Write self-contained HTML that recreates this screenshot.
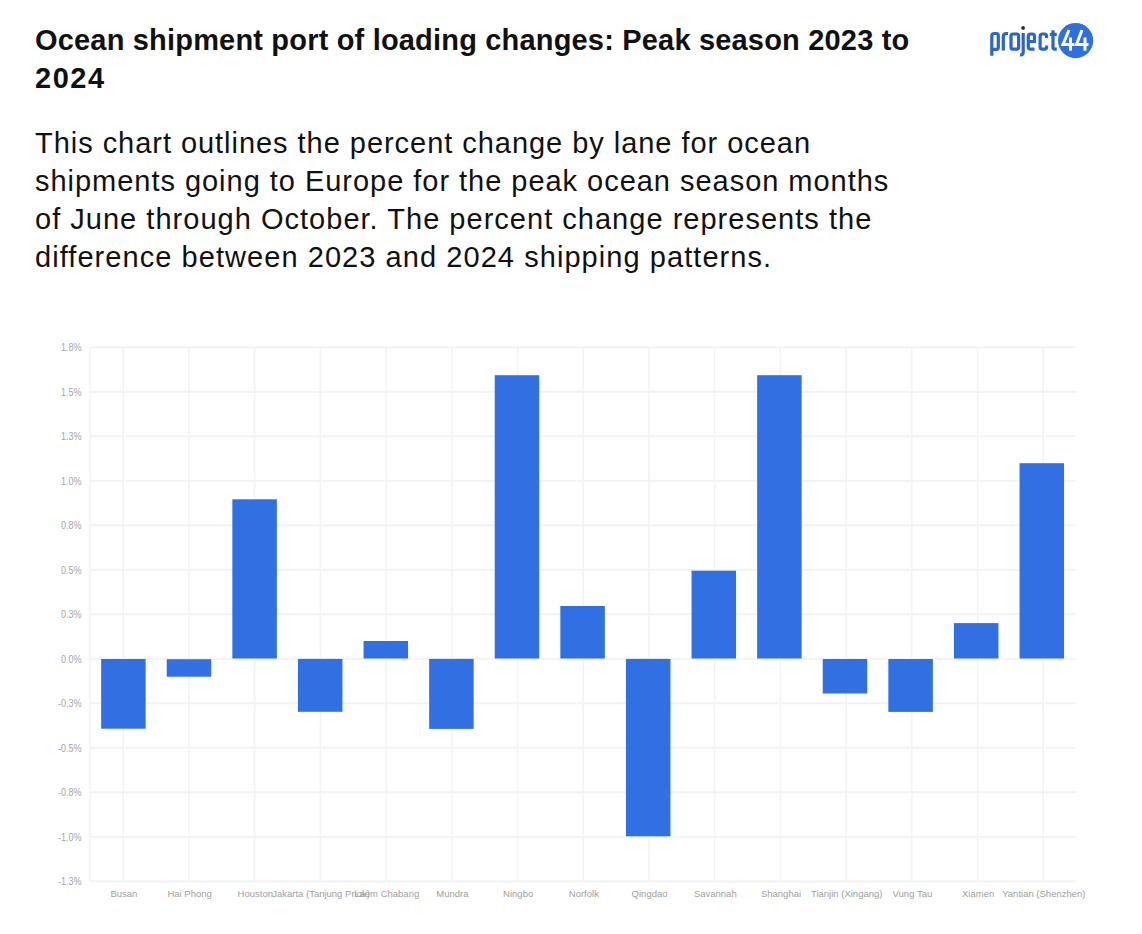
<!DOCTYPE html>
<html><head><meta charset="utf-8">
<style>
html,body{margin:0;padding:0;background:#fff;}
body{width:1142px;height:934px;position:relative;overflow:hidden;font-family:"Liberation Sans",sans-serif;color:#111;}
.t{position:absolute;left:35px;white-space:nowrap;}
.title{font-weight:bold;font-size:29px;line-height:38px;}
.body{font-size:29px;line-height:38px;}
svg{position:absolute;left:0;top:0;}
.yl{font-family:"Liberation Sans",sans-serif;font-size:10px;fill:#a6a6a6;}
.xl{font-family:"Liberation Sans",sans-serif;font-size:9.5px;fill:#a0a0a0;}
</style></head>
<body>
<div class="t title" style="top:20.6px;letter-spacing:0.18px">Ocean shipment port of loading changes: Peak season 2023 to</div>
<div class="t title" style="top:58.8px;letter-spacing:1.5px">2024</div>
<div class="t body" style="top:123.7px;letter-spacing:0.96px">This chart outlines the percent change by lane for ocean</div>
<div class="t body" style="top:161.7px;letter-spacing:0.97px">shipments going to Europe for the peak ocean season months</div>
<div class="t body" style="top:199.7px;letter-spacing:1.02px">of June through October. The percent change represents the</div>
<div class="t body" style="top:237.7px;letter-spacing:1.06px">difference between 2023 and 2024 shipping patterns.</div>
<svg width="1142" height="934" viewBox="0 0 1142 934">
<g id="logo">
<circle cx="1075.6" cy="40.6" r="17.6" fill="#2f6fe0"/>
<g fill="none" stroke="#fff" stroke-width="3" stroke-linejoin="miter">
<polyline points="1069,30 1063,44.4 1074.5,44.4"/>
<line x1="1070.5" y1="37.5" x2="1070.5" y2="50.7"/>
<polyline points="1082,30 1076.5,44.4 1088.5,44.4"/>
<line x1="1085" y1="37.5" x2="1085" y2="50.7"/>
</g>
<g fill="none" stroke="#2b64ca" stroke-width="3.2">
<path d="M991.8,55.7 V36 Q991.8,33.5 994.5,33.5 H996.5 Q998.3,33.5 998.3,36 V47 Q998.3,49.4 996.5,49.4 H991.8"/>
<path d="M1003.3,50.6 V37 Q1003.3,33.5 1006.5,33.5 H1008"/>
<rect x="1011" y="34" width="7.6" height="15.2" rx="2"/>
<path d="M1023.2,33 V52.5 Q1023.2,55 1020.5,55 H1020"/>
<path d="M1034.5,49.2 H1030.5 Q1028.3,49.2 1028.3,47 V36.5 Q1028.3,34 1030.5,34 H1032.3 Q1034.5,34 1034.5,36.5 V41.5 H1028.3"/>
<path d="M1046.6,38 V36.5 Q1046.6,34 1044.4,34 H1042.3 Q1040.1,34 1040.1,36.5 V47 Q1040.1,49.2 1042.3,49.2 H1044.4 Q1046.6,49.2 1046.6,47 V45.5"/>
<path d="M1053,30.3 V47 Q1053,49.2 1055,49.2 H1056.8 M1049.8,34.3 H1056.8"/>
</g>
<circle cx="1023.1" cy="27.9" r="1.85" fill="#1d2740"/>
</g>
<rect x="90" y="346.30" width="986" height="2" fill="#f3f3f3"/>
<rect x="90" y="390.80" width="986" height="2" fill="#f3f3f3"/>
<rect x="90" y="435.30" width="986" height="2" fill="#f3f3f3"/>
<rect x="90" y="479.80" width="986" height="2" fill="#f3f3f3"/>
<rect x="90" y="524.30" width="986" height="2" fill="#f3f3f3"/>
<rect x="90" y="568.80" width="986" height="2" fill="#f3f3f3"/>
<rect x="90" y="613.30" width="986" height="2" fill="#f3f3f3"/>
<rect x="90" y="657.80" width="986" height="2" fill="#f3f3f3"/>
<rect x="90" y="702.30" width="986" height="2" fill="#f3f3f3"/>
<rect x="90" y="746.80" width="986" height="2" fill="#f3f3f3"/>
<rect x="90" y="791.30" width="986" height="2" fill="#f3f3f3"/>
<rect x="90" y="835.80" width="986" height="2" fill="#f3f3f3"/>
<rect x="90" y="880.30" width="986" height="2" fill="#f3f3f3"/>
<rect x="89.25" y="347.3" width="1.5" height="534.0" fill="#f3f3f3"/>
<rect x="122.55" y="347.3" width="1.5" height="534.0" fill="#f3f3f3"/>
<rect x="188.26" y="347.3" width="1.5" height="534.0" fill="#f3f3f3"/>
<rect x="253.97" y="347.3" width="1.5" height="534.0" fill="#f3f3f3"/>
<rect x="319.68" y="347.3" width="1.5" height="534.0" fill="#f3f3f3"/>
<rect x="385.39" y="347.3" width="1.5" height="534.0" fill="#f3f3f3"/>
<rect x="451.10" y="347.3" width="1.5" height="534.0" fill="#f3f3f3"/>
<rect x="516.81" y="347.3" width="1.5" height="534.0" fill="#f3f3f3"/>
<rect x="582.52" y="347.3" width="1.5" height="534.0" fill="#f3f3f3"/>
<rect x="648.23" y="347.3" width="1.5" height="534.0" fill="#f3f3f3"/>
<rect x="713.94" y="347.3" width="1.5" height="534.0" fill="#f3f3f3"/>
<rect x="779.65" y="347.3" width="1.5" height="534.0" fill="#f3f3f3"/>
<rect x="845.36" y="347.3" width="1.5" height="534.0" fill="#f3f3f3"/>
<rect x="911.07" y="347.3" width="1.5" height="534.0" fill="#f3f3f3"/>
<rect x="976.78" y="347.3" width="1.5" height="534.0" fill="#f3f3f3"/>
<rect x="1042.49" y="347.3" width="1.5" height="534.0" fill="#f3f3f3"/>
<rect x="101.15" y="659.0" width="44.5" height="69.70" fill="#3170e3"/>
<rect x="166.75" y="659.2" width="44.5" height="17.50" fill="#3170e3"/>
<rect x="232.35" y="499.3" width="44.5" height="159.20" fill="#3170e3"/>
<rect x="297.95" y="658.9" width="44.5" height="52.90" fill="#3170e3"/>
<rect x="363.55" y="641.0" width="44.5" height="17.50" fill="#3170e3"/>
<rect x="429.15" y="658.9" width="44.5" height="70.00" fill="#3170e3"/>
<rect x="494.75" y="375.2" width="44.5" height="283.30" fill="#3170e3"/>
<rect x="560.35" y="606.0" width="44.5" height="52.50" fill="#3170e3"/>
<rect x="625.95" y="658.9" width="44.5" height="177.40" fill="#3170e3"/>
<rect x="691.55" y="570.7" width="44.5" height="87.80" fill="#3170e3"/>
<rect x="757.15" y="375.2" width="44.5" height="283.30" fill="#3170e3"/>
<rect x="822.75" y="659.0" width="44.5" height="34.50" fill="#3170e3"/>
<rect x="888.35" y="659.0" width="44.5" height="52.90" fill="#3170e3"/>
<rect x="953.95" y="623.1" width="44.5" height="35.40" fill="#3170e3"/>
<rect x="1019.55" y="463.2" width="44.5" height="195.30" fill="#3170e3"/>
<text transform="translate(81.5,351.20) scale(0.9,1)" text-anchor="end" class="yl">1.8%</text>
<text transform="translate(81.5,395.70) scale(0.9,1)" text-anchor="end" class="yl">1.5%</text>
<text transform="translate(81.5,440.20) scale(0.9,1)" text-anchor="end" class="yl">1.3%</text>
<text transform="translate(81.5,484.70) scale(0.9,1)" text-anchor="end" class="yl">1.0%</text>
<text transform="translate(81.5,529.20) scale(0.9,1)" text-anchor="end" class="yl">0.8%</text>
<text transform="translate(81.5,573.70) scale(0.9,1)" text-anchor="end" class="yl">0.5%</text>
<text transform="translate(81.5,618.20) scale(0.9,1)" text-anchor="end" class="yl">0.3%</text>
<text transform="translate(81.5,662.70) scale(0.9,1)" text-anchor="end" class="yl">0.0%</text>
<text transform="translate(81.5,707.20) scale(0.9,1)" text-anchor="end" class="yl">-0.3%</text>
<text transform="translate(81.5,751.70) scale(0.9,1)" text-anchor="end" class="yl">-0.5%</text>
<text transform="translate(81.5,796.20) scale(0.9,1)" text-anchor="end" class="yl">-0.8%</text>
<text transform="translate(81.5,840.70) scale(0.9,1)" text-anchor="end" class="yl">-1.0%</text>
<text transform="translate(81.5,885.20) scale(0.9,1)" text-anchor="end" class="yl">-1.3%</text>
<text x="123.90" y="897.2" text-anchor="middle" class="xl">Busan</text>
<text x="189.61" y="897.2" text-anchor="middle" class="xl">Hai Phong</text>
<text x="255.32" y="897.2" text-anchor="middle" class="xl">Houston</text>
<text x="321.03" y="897.2" text-anchor="middle" class="xl">Jakarta (Tanjung Priok)</text>
<text x="386.74" y="897.2" text-anchor="middle" class="xl">Laem Chabang</text>
<text x="452.45" y="897.2" text-anchor="middle" class="xl">Mundra</text>
<text x="518.16" y="897.2" text-anchor="middle" class="xl">Ningbo</text>
<text x="583.87" y="897.2" text-anchor="middle" class="xl">Norfolk</text>
<text x="649.58" y="897.2" text-anchor="middle" class="xl">Qingdao</text>
<text x="715.29" y="897.2" text-anchor="middle" class="xl">Savannah</text>
<text x="781.00" y="897.2" text-anchor="middle" class="xl">Shanghai</text>
<text x="846.71" y="897.2" text-anchor="middle" class="xl">Tianjin (Xingang)</text>
<text x="912.42" y="897.2" text-anchor="middle" class="xl">Vung Tau</text>
<text x="978.13" y="897.2" text-anchor="middle" class="xl">Xiamen</text>
<text x="1043.84" y="897.2" text-anchor="middle" class="xl">Yantian (Shenzhen)</text>
</svg>
</body></html>
